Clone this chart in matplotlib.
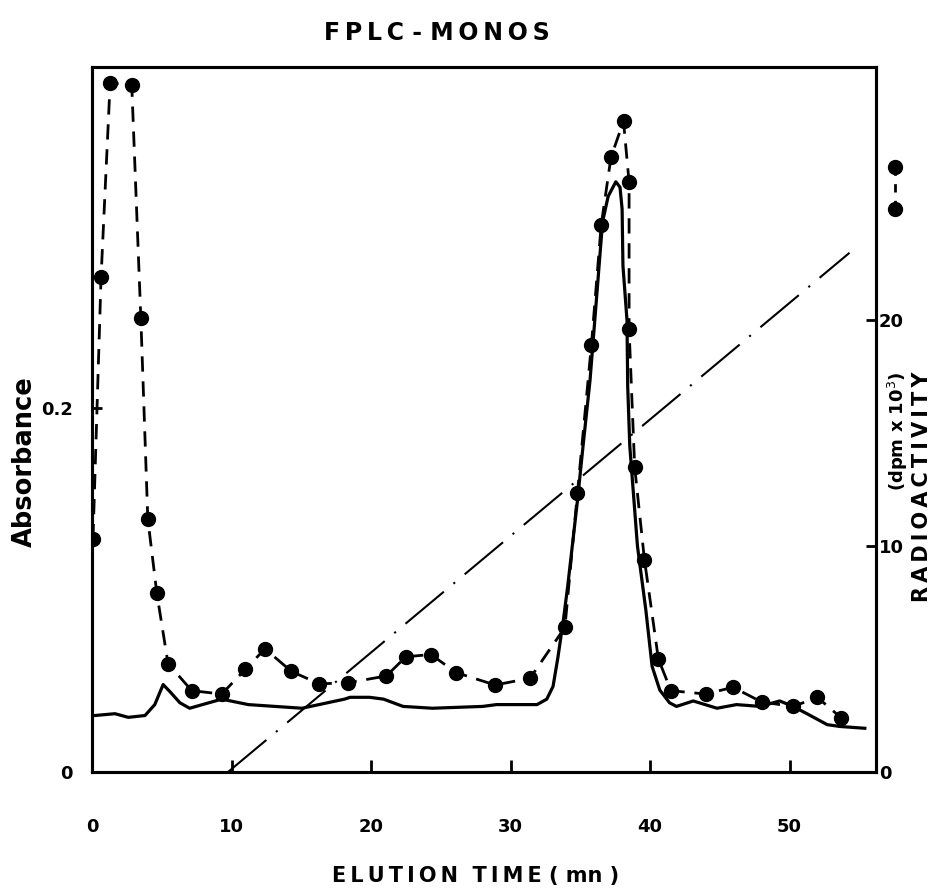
import matplotlib
matplotlib.use('Agg')
import matplotlib.pyplot as plt
from matplotlib.lines import Line2D

# Absorbance trace (solid line, left axis)
abs_time = [0.2, 1.65, 2.6, 3.8, 4.5, 5.1, 5.6, 6.3, 7.0, 9.3, 11.2, 15.05, 18.1, 18.5,
            19.9, 20.9, 22.3, 24.4, 28.0, 29.0, 31.9, 32.6, 33.05, 33.4, 33.8, 34.1,
            34.8, 35.2, 35.7, 36.6, 37.0, 37.55, 37.85, 38.0, 38.06, 38.35, 38.4, 38.55,
            39.1, 39.7, 40.15, 40.7, 41.4, 41.9, 43.1, 44.8, 46.2, 47.9, 49.3, 50.25,
            51.25, 52.7, 53.6, 55.4]
absorbance = [0.031, 0.032, 0.030, 0.031, 0.037, 0.048, 0.044, 0.038, 0.035, 0.040, 0.037,
              0.035, 0.040, 0.041, 0.041, 0.040, 0.036, 0.035, 0.036, 0.037, 0.037, 0.040,
              0.047, 0.063, 0.084, 0.102, 0.149, 0.179, 0.215, 0.302, 0.316, 0.324, 0.321,
              0.309, 0.278, 0.248, 0.212, 0.179, 0.124, 0.089, 0.058, 0.045, 0.038, 0.036,
              0.039, 0.035, 0.037, 0.036, 0.039, 0.036, 0.032, 0.026, 0.025, 0.024]

# Radioactivity (dashed line with dots, right axis, dpm x 10^3)
rad_time = [0.07, 0.65, 1.3, 2.85, 3.5, 4.0, 4.65, 5.45, 7.15, 9.3, 11.0, 12.4, 14.3,
            16.3, 18.35, 21.1, 22.5, 24.3, 26.1, 28.9, 31.4, 33.9, 34.8, 35.8, 36.5,
            37.2, 38.1, 38.5, 38.5, 38.9, 39.6, 40.6, 41.5, 44.0, 45.95, 48.0, 50.25,
            52.0, 53.7]
radioactivity = [10.3, 21.9, 30.5, 30.4, 20.1, 11.2, 7.9, 4.8, 3.6, 3.45, 4.55, 5.45, 4.45,
                 3.9, 3.95, 4.25, 5.1, 5.2, 4.4, 3.85, 4.15, 6.4, 12.35, 18.9, 24.2,
                 27.2, 28.8, 26.1, 19.6, 13.5, 9.4, 5.0, 3.6, 3.45, 3.75, 3.1, 2.9,
                 3.3, 2.4]

# Gradient (dash-dot line)
grad_time = [9.75, 54.3]
grad_level = [0.0, 0.285]

x_ticks = [0, 10, 20, 30, 40, 50]
abs_ticks = [0, 0.2]
abs_ticklabels = ['0', '0.2']
rad_ticks = [0, 10, 20]

TS = '\u2009'  # thin space for letter spacing


def spaced(s):
    return TS.join(s)


fig = plt.figure(figsize=(9.34, 8.93), dpi=100)
ax = fig.add_axes([92/934, 1-772/893, (876-92)/934, (772-67)/893])
ax.set_xlim(0, 56.2)
ax.set_ylim(0, 0.387)
ax2 = ax.twinx()
ax2.set_ylim(0, 31.2)

for a in (ax, ax2):
    for s in a.spines.values():
        s.set_linewidth(2.2)

ax.plot(abs_time, absorbance, color='black', lw=2.3, solid_joinstyle='round', zorder=3)
ax.plot(grad_time, grad_level, color='black', lw=1.5, dashes=(24, 6, 1, 6), zorder=2)
ax2.plot(rad_time, radioactivity, color='black', lw=2.0, dashes=(5.5, 3.5),
         marker='o', markersize=10, zorder=4)

tick_font = dict(fontsize=13, fontweight='bold', family='DejaVu Sans')
ax.set_xticks(x_ticks)
ax.set_xticklabels([str(t) for t in x_ticks], **tick_font)
ax.set_yticks(abs_ticks)
ax.set_yticklabels(abs_ticklabels, **tick_font)
ax.tick_params(axis='x', direction='in', length=9, width=2, pad=33)
ax.tick_params(axis='y', direction='in', length=7, width=2, pad=14)
ax2.set_yticks(rad_ticks)
ax2.set_yticklabels([str(t) for t in rad_ticks], **tick_font)
ax2.tick_params(axis='y', direction='in', length=7, width=2, pad=2)

fig.text(437/934, 1-33/893, spaced('FPLC') + ' - ' + spaced('MONOS'),
         ha='center', va='center', fontsize=17, fontweight='bold')
fig.text(476/934, 1-876/893, spaced('ELUTION') + '  ' + spaced('TIME') + ' ( mn )',
         ha='center', va='center', fontsize=15, fontweight='bold')
fig.text(25/934, 1-462/893, 'Absorbance', rotation=90, ha='center', va='center',
         fontsize=18.5, fontweight='bold')
fig.text(922/934, 1-372/893, spaced('RADIOACTIVITY'), rotation=90, ha='center', va='top',
         fontsize=15, fontweight='bold')
fig.text(898/934, 1-372/893, '(dpm x 10$^3$)', rotation=90, ha='center', va='top',
         fontsize=13, fontweight='bold')

# legend key for radioactivity symbol
fig.add_artist(Line2D([895/934, 895/934], [1-167/893, 1-209/893], color='black',
                      lw=2.0, dashes=(3, 3), marker='o', markersize=10,
                      transform=fig.transFigure))

fig.savefig('out.png', dpi=100)
